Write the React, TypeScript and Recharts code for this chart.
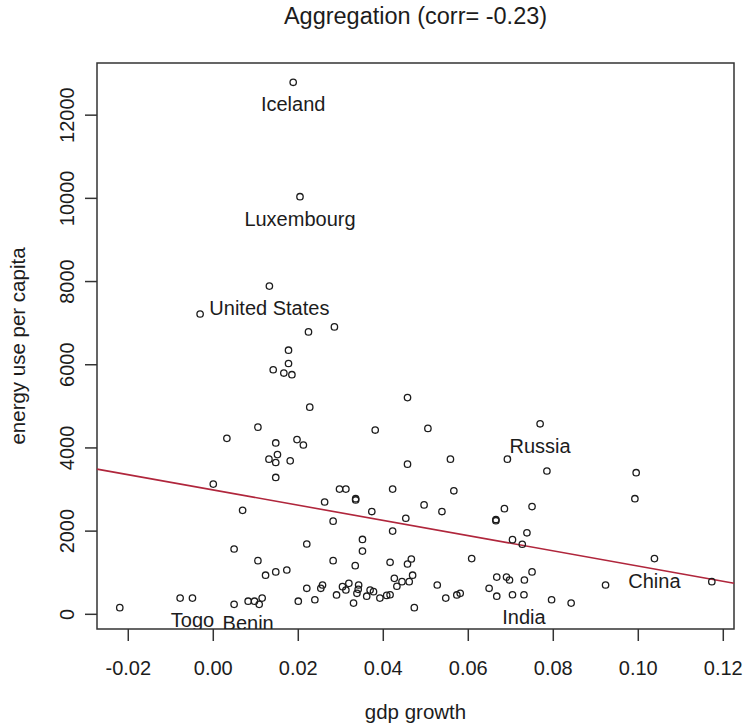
import React from 'react';
import {
  ScatterChart,
  Scatter,
  XAxis,
  YAxis,
  ReferenceLine,
  ReferenceArea,
  Label,
} from 'recharts';

// unlabelled countries: gdp growth vs energy use per capita
const gdpGrowth = [
  -0.0031, 0.0224, 0.0285, 0.0177, 0.0177, 0.0141, 0.0166, 0.0185, 0.0457, 0.0227,
  0.0105, 0.0381, 0.0032, 0.0147, 0.0197, 0.0212, 0.0151, 0.0131, 0.0147, 0.0181,
  0.0457, 0.0147, 0.0, 0.0297, 0.0312, 0.0422, 0.0335, 0.0335, 0.0262, 0.0069,
  0.0373, 0.0453, 0.0282, 0.0422, 0.0351, 0.022, 0.0351, 0.0049, 0.0105, 0.0282,
  0.0416, 0.0466, 0.0457, 0.0334, 0.0173, 0.0147, 0.0123, 0.0426, 0.0469, 0.0444,
  0.0461, 0.0432, 0.022, 0.0257, 0.0253, 0.0319, 0.0304, 0.0342, 0.0312, 0.0338,
  0.0341, 0.0369, 0.0377, 0.0361, 0.0392, 0.029, 0.0239, 0.02, 0.033, 0.0416,
  0.0408, 0.0473, -0.022, -0.0078, 0.0049, 0.0097, 0.0108, 0.0115, 0.0505, 0.0558,
  0.0692, 0.0785, 0.0995, 0.0992, 0.0566, 0.0496, 0.0538, 0.0685, 0.075, 0.0665,
  0.0665, 0.0738, 0.0704, 0.0727, 0.0608, 0.0527, 0.0547, 0.0573, 0.0581, 0.0649,
  0.0667, 0.069, 0.0697, 0.0732, 0.075, 0.0667, 0.0704, 0.0796, 0.0842, 0.0923,
  0.1173,
];
const energyUse = [
  7220, 6790, 6910, 6350, 6030, 5880, 5800, 5760, 5210, 4980,
  4500, 4430, 4230, 4120, 4200, 4070, 3840, 3730, 3650, 3690,
  3610, 3290, 3130, 3010, 3010, 3010, 2780, 2750, 2700, 2500,
  2470, 2310, 2240, 2000, 1800, 1690, 1520, 1570, 1290, 1290,
  1250, 1330, 1210, 1170, 1065, 1020, 940, 865, 940, 785,
  785, 675, 625, 705, 625, 745, 665, 705, 585, 505,
  600, 585, 545, 435, 390, 465, 350, 315, 270, 470,
  455, 160, 160, 390, 240, 315, 240, 390, 4470, 3730,
  3730, 3445, 3405, 2780, 2970, 2630, 2470, 2540, 2590, 2280,
  2250, 1960, 1795, 1685, 1340, 705, 390, 465, 505, 625,
  895, 895, 825, 825, 1020, 435, 470, 350, 270, 705,
  785,
];

// named countries
const labelNames = ['Iceland', 'Luxembourg', 'United States', 'Russia', 'China', 'India', 'Togo', 'Benin'];
const labelGrowth = [0.0188, 0.0204, 0.0132, 0.0769, 0.1038, 0.0731, -0.0049, 0.0082];
const labelEnergy = [12790, 10040, 7890, 4580, 1340, 470, 390, 315];

const xTicks = [-0.02, 0, 0.02, 0.04, 0.06, 0.08, 0.1, 0.12];
const yTicks = [0, 2000, 4000, 6000, 8000, 10000, 12000];

// fitted line
const fitIntercept = 2990;
const fitSlope = -18325;

const xMin = -0.02736;
const xMax = 0.12252;
const yMin = -353;
const yMax = 13254;

const points = gdpGrowth.map((x, i) => ({ x, y: energyUse[i] }));
const named = labelNames.map((name, i) => ({ x: labelGrowth[i], y: labelEnergy[i], name }));

const FONT = '"Liberation Sans", Arial, sans-serif';
const INK = '#1c1c1c';

const Ring = (props: any) => (
  <circle cx={props.cx} cy={props.cy} r={3.2} fill="none" stroke={INK} strokeWidth={1.3} />
);

const NamedRing = (props: any) => (
  <g>
    <circle cx={props.cx} cy={props.cy} r={3.2} fill="none" stroke={INK} strokeWidth={1.3} />
    <text
      x={props.cx}
      y={props.cy + 29}
      textAnchor="middle"
      fontSize={20}
      fontFamily={FONT}
      fill={INK}
    >
      {props.payload.name}
    </text>
  </g>
);

const YTick = (props: any) => (
  <text
    transform={`translate(${props.x},${props.y}) rotate(-90)`}
    textAnchor="middle"
    fontSize={20}
    fontFamily={FONT}
    fill={INK}
  >
    {props.payload.value}
  </text>
);

export default function App() {
  return (
    <div style={{ position: 'absolute', left: 0, top: 0, width: 744, height: 727, background: '#fff' }}>
      <div
        style={{
          position: 'absolute',
          left: 97,
          width: 637,
          top: 5,
          textAlign: 'center',
          fontFamily: FONT,
          fontSize: 23.5,
          lineHeight: 1,
          color: INK,
        }}
      >
        Aggregation (corr= -0.23)
      </div>
      <ScatterChart width={744} height={727} margin={{ top: 63, right: 10, bottom: 0, left: 0 }}>
        <XAxis
          type="number"
          dataKey="x"
          domain={[xMin, xMax]}
          ticks={xTicks}
          allowDataOverflow
          height={98}
          axisLine={false}
          tickSize={12}
          tickMargin={20}
          tickLine={{ stroke: '#333', strokeWidth: 1.5 }}
          tick={{ fontSize: 20, fontFamily: FONT, fill: INK }}
          tickFormatter={(v: number) => v.toFixed(2)}
        >
          <Label
            content={(p: any) => (
              <text
                x={p.viewBox.x + p.viewBox.width / 2}
                y={p.viewBox.y + 90}
                textAnchor="middle"
                fontSize={20.5}
                fontFamily={FONT}
                fill={INK}
              >
                gdp growth
              </text>
            )}
          />
        </XAxis>
        <YAxis
          type="number"
          dataKey="y"
          domain={[yMin, yMax]}
          ticks={yTicks}
          allowDataOverflow
          width={97}
          axisLine={false}
          tickSize={12}
          tickMargin={11.5}
          tickLine={{ stroke: '#333', strokeWidth: 1.5 }}
          tick={<YTick />}
        >
          <Label
            content={(p: any) => (
              <text
                transform={`translate(25,${p.viewBox.y + p.viewBox.height / 2}) rotate(-90)`}
                textAnchor="middle"
                fontSize={20.5}
                fontFamily={FONT}
                fill={INK}
              >
                energy use per capita
              </text>
            )}
          />
        </YAxis>
        <ReferenceArea
          x1={xMin}
          x2={xMax}
          y1={yMin}
          y2={yMax}
          fill="none"
          fillOpacity={0}
          stroke="#333"
          strokeWidth={1.5}
          ifOverflow="visible"
        />
        <ReferenceLine
          segment={[
            { x: xMin, y: fitIntercept + fitSlope * xMin },
            { x: xMax, y: fitIntercept + fitSlope * xMax },
          ]}
          stroke="#b0263c"
          strokeWidth={1.6}
          ifOverflow="visible"
        />
        <Scatter data={points} shape={Ring} isAnimationActive={false} />
        <Scatter data={named} shape={NamedRing} isAnimationActive={false} />
      </ScatterChart>
    </div>
  );
}
